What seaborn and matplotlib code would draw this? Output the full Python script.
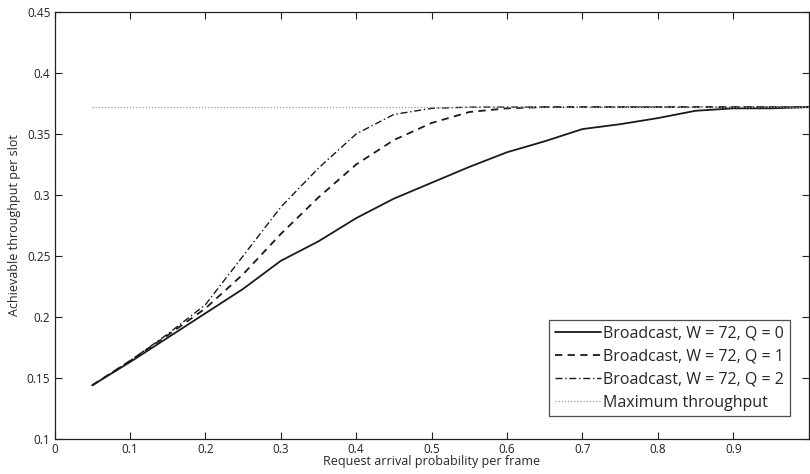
import numpy as np
import pandas as pd
import seaborn as sns
import matplotlib.pyplot as plt

# request arrival probability per frame
p = [0.05, 0.1, 0.15, 0.2, 0.25, 0.3, 0.35, 0.4, 0.45, 0.5,
     0.55, 0.6, 0.65, 0.7, 0.75, 0.8, 0.85, 0.9, 0.95, 1.0]

q0 = [0.144, 0.163, 0.183, 0.203, 0.223, 0.246, 0.262, 0.281, 0.297, 0.310,
      0.323, 0.335, 0.344, 0.354, 0.358, 0.363, 0.369, 0.371, 0.371, 0.372]
q1 = [0.144, 0.164, 0.185, 0.207, 0.235, 0.268, 0.298, 0.325, 0.345, 0.359,
      0.368, 0.371, 0.372, 0.372, 0.372, 0.372, 0.372, 0.372, 0.372, 0.372]
q2 = [0.144, 0.164, 0.186, 0.210, 0.250, 0.290, 0.322, 0.350, 0.366, 0.371,
      0.372, 0.372, 0.372, 0.372, 0.372, 0.372, 0.372, 0.372, 0.372, 0.372]
max_tp = 0.372

labels = ['Broadcast, W = 72, Q = 0', 'Broadcast, W = 72, Q = 1',
          'Broadcast, W = 72, Q = 2', 'Maximum throughput']

df = pd.DataFrame({'p': p, 'q0': q0, 'q1': q1, 'q2': q2})
df['max'] = max_tp

sns.set_style("ticks")
plt.rcParams['font.family'] = ['Open Sans', 'DejaVu Sans']

fig = plt.figure(figsize=(8.1, 4.74), dpi=100)
ax = fig.add_axes([0.0673, 0.0738, 0.931, 0.901])

sns.lineplot(data=df, x='p', y='q0', ax=ax, color='#1a1a1a', lw=1.3, label=labels[0])
sns.lineplot(data=df, x='p', y='q1', ax=ax, color='#1a1a1a', lw=1.3,
             linestyle=(0, (4, 3)), label=labels[1])
sns.lineplot(data=df, x='p', y='q2', ax=ax, color='#1a1a1a', lw=1.0,
             linestyle=(0, (5, 2, 1, 2)), label=labels[2])
sns.lineplot(data=df, x='p', y='max', ax=ax, color='#999999', lw=0.9,
             linestyle=(0, (1, 1.5)), label=labels[3])

ax.set_xlim(0, 1)
ax.set_ylim(0.1, 0.45)
ax.set_xticks(np.arange(0, 1.01, 0.1))
ax.set_xticklabels(['0', '0.1', '0.2', '0.3', '0.4', '0.5', '0.6', '0.7', '0.8', '0.9', ''])
ax.set_yticks(np.arange(0.1, 0.451, 0.05))
ax.set_yticklabels(['0.1', '0.15', '0.2', '0.25', '0.3', '0.35', '0.4', '0.45'])
ax.tick_params(direction='in', top=True, right=True, length=5, width=0.8,
               labelsize=8.5, colors='#222222', pad=3)
for s in ax.spines.values():
    s.set_visible(True)
    s.set_linewidth(0.9)
    s.set_color('#222222')

ax.set_xlabel('Request arrival probability per frame', fontsize=9, labelpad=-1)
ax.set_ylabel('Achievable throughput per slot', fontsize=9, labelpad=4)

leg = ax.legend(loc='lower right', bbox_to_anchor=(0.975, 0.053), fontsize=11.5,
                frameon=True, fancybox=False, edgecolor='#222222',
                handlelength=2.9, handletextpad=0.15, borderpad=0.35,
                labelspacing=0.45, borderaxespad=0)
leg.get_frame().set_linewidth(0.9)

fig.savefig('out.png', dpi=100)
